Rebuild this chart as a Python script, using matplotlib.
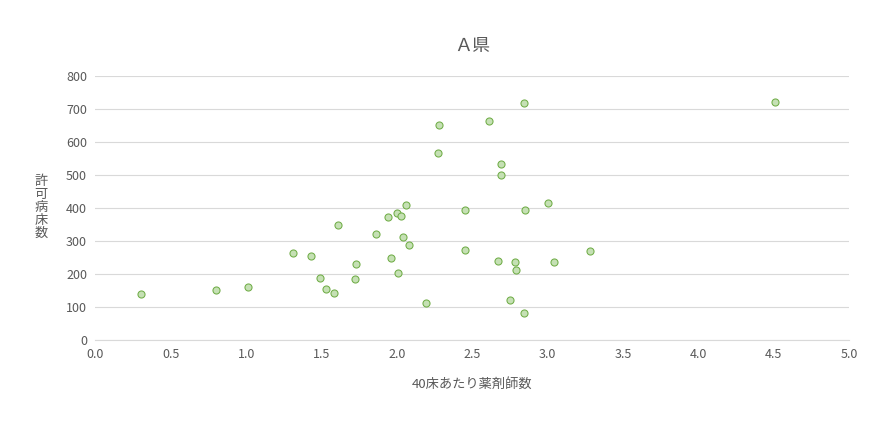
import matplotlib.pyplot as plt

plt.rcParams["font.family"] = "Noto Sans CJK JP"

pharm = [0.30, 0.80, 1.01, 1.31, 1.43, 1.49, 1.53, 1.58, 1.61, 1.73, 1.72, 1.86,
         1.94, 1.96, 2.00, 2.03, 2.01, 2.04, 2.06, 2.08, 2.19, 2.27, 2.28, 2.45,
         2.45, 2.61, 2.67, 2.69, 2.69, 2.75, 2.78, 2.79, 2.84, 2.84, 2.85, 3.00,
         3.04, 3.28, 4.51]
beds = [138, 150, 160, 263, 254, 188, 153, 141, 348, 230, 185, 320,
        373, 248, 383, 376, 201, 311, 408, 288, 110, 567, 650, 393,
        272, 662, 240, 532, 499, 120, 236, 212, 717, 80, 393, 415,
        236, 270, 720]

fig, ax = plt.subplots(figsize=(8.92, 4.21), dpi=100)
fig.subplots_adjust(left=0.107, right=0.952, top=0.82, bottom=0.193)
ax.scatter(pharm, beds, s=26, facecolor="#c5e0b4", edgecolor="#70ad47", linewidth=0.75, zorder=3)
ax.set_xlim(0, 5)
ax.set_ylim(0, 800)
ax.set_xticks([i * 0.5 for i in range(11)])
ax.set_xticklabels([f"{i * 0.5:.1f}" for i in range(11)])
ax.set_yticks(range(0, 801, 100))
ax.grid(axis="y", color="#d9d9d9", linewidth=0.8)
for s in ["top", "right", "left"]:
    ax.spines[s].set_visible(False)
ax.spines["bottom"].set_color("#d9d9d9")
ax.tick_params(length=0, labelsize=9, colors="#595959", pad=6)
ax.set_title("Ａ県", fontsize=13, color="#595959", pad=18)
ax.set_xlabel("40床あたり薬剤師数", fontsize=9.5, color="#595959", labelpad=12)
ax.set_ylabel("許\n可\n病\n床\n数", rotation=0, fontsize=9.5, color="#595959",
              linespacing=1.0, va="center", labelpad=18)
fig.savefig("out.png")
